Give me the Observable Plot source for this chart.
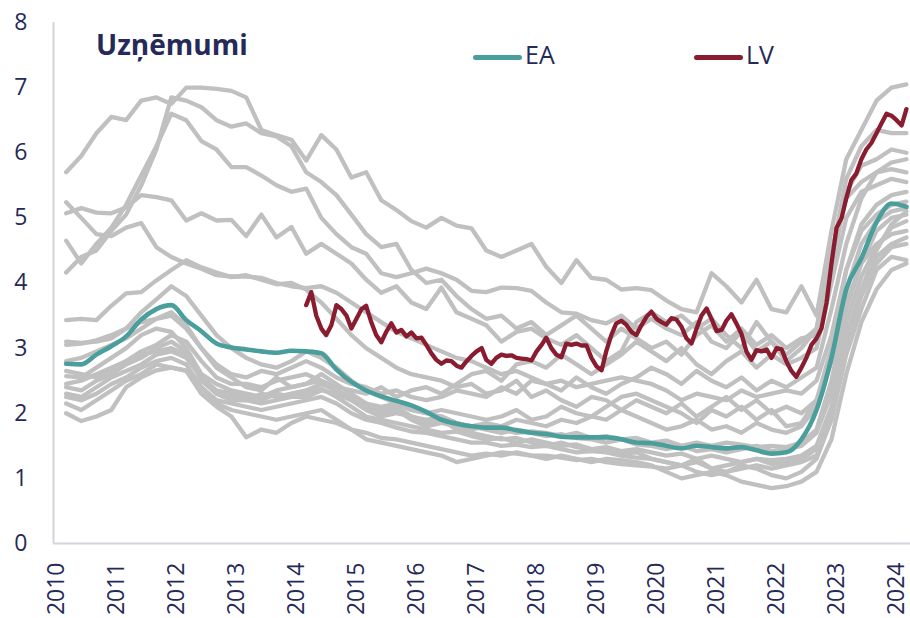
<!DOCTYPE html>
<html>
<head>
<meta charset="utf-8">
<script src="https://cdn.jsdelivr.net/npm/d3@7"></script>
<script src="https://cdn.jsdelivr.net/npm/@observablehq/plot@0.6"></script>
<style>
  html, body { margin: 0; padding: 0; background: #fff; }
  #wrap { position: relative; width: 910px; height: 618px; font-family: 'Open Sans', sans-serif; color: #262a58; }
  #title { position: absolute; left: 96px; top: 30px; font-size: 28px; font-weight: 700; line-height: 1; }
  .sw { position: absolute; height: 5px; border-radius: 3px; }
  .lg { position: absolute; font-size: 25px; line-height: 1; }
</style>
</head>
<body>
<div id="wrap">
  <div id="chart"></div>
  <div id="title">Uzņēmumi</div>
  <div class="sw" style="left:473px; top:55px; width:49px; background:#4a9f9c"></div>
  <div class="lg" style="left:525px; top:42px">EA</div>
  <div class="sw" style="left:694px; top:55px; width:49px; background:#8a1c30"></div>
  <div class="lg" style="left:746px; top:42px">LV</div>
</div>
<script>
// ---- tick labels ----
const yearLabels = ["2010","2011","2012","2013","2014","2015","2016","2017","2018","2019","2020","2021","2022","2023","2024"];
const yTicks = [0,1,2,3,4,5,6,7,8];

// ---- quarterly grey series (Mar, Jun, Sep, Dec; 2010-03 .. 2024-03) ----
const g1 = [5.7,5.95,6.3,6.55, 6.5,6.8,6.85,6.75, 7.0,7.0,6.98,6.95, 6.85,6.35,6.27,6.2, 5.88,6.27,6.05,5.62, 5.7,5.27,5.12,4.95, 4.85,5.0,4.88,4.84, 4.5,4.4,4.5,4.6, 4.25,4.0,4.35,4.08, 4.05,3.9,3.92,3.89, 3.73,3.6,3.55,4.15, 3.95,3.7,4.05,3.6, 3.55,3.95,3.5,4.8, 5.9,6.35,6.8,7.0, 7.05];
const g2 = [4.16,4.4,4.5,4.8, 5.05,5.5,6.05,6.85, 6.8,6.7,6.5,6.4, 6.45,6.3,6.25,6.1, 5.7,5.55,5.35,5.05, 4.75,4.55,4.6,4.2, 4.0,4.05,3.8,3.6, 3.45,3.5,3.3,3.4, 3.2,3.35,3.5,3.3, 3.1,3.3,3.15,3.0, 3.1,2.9,3.2,3.35, 3.1,3.3,3.05,3.2, 3.0,3.15,3.2,4.4, 5.6,6.1,6.35,6.3, 6.3];
const g3 = [4.65,4.3,4.6,4.85, 5.2,5.65,6.1,6.6, 6.5,6.18,6.05,5.78, 5.78,5.65,5.5,5.4, 5.45,5.0,4.75,4.55, 4.45,4.15,4.09,4.15, 4.22,4.15,4.05,3.88, 3.86,3.93,3.92,3.88, 3.7,3.55,3.53,3.43, 3.38,3.5,3.3,3.45, 3.3,3.2,3.4,3.1, 3.0,3.25,2.95,3.1, 2.8,3.0,3.3,4.2, 5.4,5.8,5.9,6.05, 6.0];
const g4 = [5.24,5.0,4.75,4.72, 4.85,4.92,4.55,4.4, 4.3,4.22,4.12,4.1, 4.1,4.08,4.0,3.95, 3.92,3.95,3.85,3.7, 3.55,3.4,3.25,3.15, 3.05,2.95,2.85,2.8, 2.7,2.6,2.65,2.55, 2.45,2.5,2.4,2.45, 2.5,2.55,2.5,2.45, 2.35,2.2,2.3,2.25, 2.2,2.35,2.25,2.3, 2.35,2.3,2.5,3.2, 4.2,4.8,5.05,5.2, 5.25];
const g5 = [5.07,5.15,5.08,5.07, 5.16,5.35,5.32,5.27, 4.96,5.07,4.96,4.97, 4.72,5.05,4.7,4.86, 4.45,4.6,4.45,4.3, 4.05,3.85,3.95,3.7, 3.6,3.93,3.55,3.45, 3.35,3.1,3.25,3.3, 3.15,3.05,3.2,3.0, 2.8,2.95,3.4,3.55, 3.4,3.5,3.3,3.45, 3.2,3.0,3.4,3.1, 2.9,3.1,3.3,4.5, 5.3,5.55,5.7,5.75, 5.7];
const g6 = [3.43,3.45,3.43,3.65, 3.84,3.86,4.04,4.2, 4.35,4.24,4.16,4.09, 4.12,4.05,3.98,4.0, 3.9,3.7,3.45,3.2, 3.0,2.85,2.7,2.6, 2.55,2.5,2.4,2.45, 2.3,2.35,2.5,2.25, 2.35,2.2,2.1,2.25, 2.2,2.05,2.2,2.1, 2.0,2.15,1.95,2.1, 2.25,2.05,2.2,2.0, 2.1,2.0,2.2,2.8, 3.7,4.3,4.6,4.75, 4.8];
const g7 = [3.1,3.08,3.1,3.15, 3.3,3.55,3.75,3.95, 3.8,3.5,3.2,3.0, 2.85,2.75,2.7,2.8, 2.95,2.85,2.7,2.5, 2.35,2.25,2.15,2.05, 2.0,1.95,1.85,1.8, 1.75,1.7,1.75,1.7, 1.65,1.68,1.62,1.6, 1.55,1.6,1.52,1.5, 1.45,1.5,1.42,1.45, 1.4,1.45,1.5,1.42, 1.45,1.5,1.7,2.3, 3.4,4.1,4.55,4.85, 4.95];
const g8 = [3.05,3.07,3.12,3.2, 3.3,3.4,3.45,3.55, 3.35,3.0,2.7,2.55, 2.4,2.35,2.55,2.4, 2.45,2.6,2.45,2.3, 2.15,2.05,2.1,1.95, 1.85,1.9,1.75,1.7, 1.65,1.6,1.62,1.55, 1.5,1.55,1.48,1.45, 1.42,1.38,1.4,1.3, 1.25,1.2,1.3,1.15, 1.1,1.2,1.15,1.05, 1.0,1.1,1.3,1.9, 3.0,3.8,4.3,4.55, 4.6];
const l1 = [2.57,2.55,2.7,2.85, 3.0,3.2,3.3,3.25, 3.0,2.6,2.45,2.35, 2.3,2.25,2.35,2.4, 2.45,2.5,2.35,2.2, 2.1,2.0,2.05,1.9, 1.8,1.85,1.8,1.75, 1.8,1.75,1.7,1.72, 1.7,1.65,1.7,1.62, 1.65,1.6,1.62,1.55, 1.58,1.5,1.55,1.5, 1.55,1.52,1.48,1.5, 1.48,1.55,1.75,2.5, 3.6,4.3,4.8,5.0, 5.05];
const l2 = [2.4,2.35,2.5,2.6, 2.75,2.85,3.0,3.1, 2.95,2.5,2.3,2.2, 2.2,2.15,2.2,2.25, 2.3,2.38,2.25,2.1, 1.95,1.9,1.85,1.8, 1.75,1.7,1.72,1.65, 1.6,1.62,1.55,1.6, 1.55,1.5,1.52,1.45, 1.48,1.42,1.45,1.4, 1.35,1.38,1.3,1.35, 1.3,1.25,1.3,1.28, 1.3,1.35,1.5,2.1, 3.2,3.9,4.4,4.6, 4.7];
const l3 = [2.25,2.2,2.3,2.45, 2.55,2.7,2.8,2.85, 2.75,2.4,2.2,2.15, 2.1,2.05,2.1,2.15, 2.2,2.25,2.15,2.0, 1.9,1.85,1.78,1.72, 1.7,1.65,1.6,1.55, 1.55,1.5,1.52,1.48, 1.5,1.45,1.4,1.42, 1.4,1.35,1.32,1.3, 1.25,1.2,1.25,1.15, 1.2,1.25,1.3,1.22, 1.25,1.3,1.45,2.0, 3.1,3.9,4.5,4.9, 5.1];
const l4 = [2.15,2.05,2.2,2.35, 2.5,2.6,2.75,2.7, 2.65,2.3,2.1,1.95, 1.63,1.75,1.7,1.85, 1.95,1.9,1.85,1.75, 1.7,1.62,1.6,1.55, 1.5,1.45,1.4,1.35, 1.38,1.35,1.4,1.35, 1.35,1.32,1.28,1.3, 1.25,1.22,1.2,1.18, 1.15,1.2,1.1,1.05, 1.1,1.15,1.2,1.15, 1.2,1.25,1.35,1.9, 2.9,3.6,4.2,4.4, 4.35];
const l5 = [2.0,1.88,1.95,2.05, 2.4,2.55,2.66,2.7, 2.66,2.4,2.15,2.05, 2.0,1.95,1.9,1.95, 2.0,2.05,1.9,1.75, 1.6,1.55,1.5,1.45, 1.4,1.35,1.25,1.3, 1.35,1.4,1.38,1.35, 1.3,1.35,1.3,1.25, 1.3,1.28,1.25,1.2, 1.1,1.0,1.05,1.1, 1.05,0.95,0.9,0.85, 0.88,0.95,1.1,1.6, 2.6,3.4,3.9,4.2, 4.3];
const l6 = [2.3,2.25,2.4,2.55, 2.65,2.75,2.9,2.95, 2.85,2.55,2.3,2.25, 2.2,2.3,2.25,2.3, 2.35,2.45,2.35,2.25, 2.15,2.1,2.15,2.05, 2.0,2.05,2.0,1.95, 1.9,1.95,2.05,1.9, 1.95,2.1,2.0,1.95, 2.1,2.25,2.3,2.2, 2.1,2.0,1.85,2.05, 1.95,2.1,1.9,2.05, 1.8,1.85,2.2,3.0, 4.2,4.9,5.2,5.35, 5.4];
const l7 = [2.45,2.5,2.6,2.7, 2.8,2.95,3.05,3.2, 3.1,2.8,2.55,2.45, 2.45,2.4,2.5,2.55, 2.6,2.5,2.4,2.35, 2.3,2.4,2.25,2.35, 2.4,2.3,2.45,2.6, 2.65,2.5,2.75,2.8, 2.7,2.9,2.75,2.6, 2.75,2.9,3.1,2.95, 2.8,3.0,2.75,2.6, 2.8,2.95,2.7,2.9, 2.75,2.85,3.0,4.0, 5.0,5.4,5.5,5.6, 5.55];
const m1 = [2.8,2.85,2.95,3.05, 3.15,3.3,3.45,3.5, 3.3,3.0,2.75,2.6, 2.55,2.65,2.6,2.7, 2.8,2.7,2.55,2.45, 2.4,2.3,2.35,2.25, 2.2,2.25,2.35,2.3, 2.25,2.4,2.3,2.5, 2.45,2.35,2.55,2.4, 2.3,2.45,2.55,2.7, 2.6,2.45,2.65,2.5, 2.4,2.55,2.35,2.5, 2.4,2.55,2.7,3.6, 4.6,5.3,5.7,5.85, 5.9];
const m2 = [2.65,2.6,2.55,2.65, 2.8,2.9,2.95,3.0, 2.9,2.55,2.35,2.3, 2.25,2.2,2.3,2.25, 2.25,2.35,2.3,2.2, 2.05,1.95,2.0,1.95, 1.9,1.95,1.85,1.8, 1.85,1.8,1.9,1.85, 1.8,1.9,1.85,1.95, 1.9,2.05,1.95,1.85, 1.75,1.8,1.9,1.75, 1.8,1.7,1.85,1.75, 1.7,1.8,2.1,2.8, 3.9,4.6,4.95,5.1, 5.15];

// ---- EA (quarterly) ----
const ea = [2.76,2.75,2.9,3.03, 3.18,3.44,3.6,3.66, 3.43,3.26,3.07,3.01, 2.98,2.95,2.93,2.96, 2.95,2.92,2.67,2.48, 2.35,2.26,2.19,2.12, 2.02,1.9,1.84,1.8, 1.78,1.78,1.74,1.7, 1.68,1.64,1.63,1.63, 1.63,1.6,1.55,1.54, 1.5,1.46,1.5,1.48, 1.46,1.48,1.43,1.38, 1.4,1.6,2.05,2.85, 3.9,4.38,4.93,5.22, 5.17];

// ---- LV (monthly, 2014-03 .. 2024-03) ----
const lv = [3.66,3.86,3.5,3.3,3.2,3.35,3.66,3.6,3.5,3.3,
  3.45,3.6,3.65,3.4,3.2,3.09,3.25,3.38,3.24,3.28,
  3.18,3.24,3.15,3.16,3.05,2.92,2.82,2.76,2.81,2.8,
  2.73,2.7,2.8,2.88,2.95,3.0,2.82,2.76,2.85,2.9,
  2.88,2.89,2.85,2.84,2.83,2.81,2.95,3.05,3.16,3.0,
  2.9,2.86,3.07,3.05,3.07,3.04,3.04,2.85,2.72,2.66,
  2.95,3.2,3.38,3.42,3.36,3.25,3.2,3.35,3.48,3.56,
  3.45,3.4,3.36,3.46,3.44,3.33,3.15,3.07,3.3,3.5,
  3.61,3.45,3.26,3.28,3.42,3.52,3.38,3.22,2.95,2.82,
  2.97,2.95,2.98,2.85,3.0,2.98,2.8,2.65,2.56,2.7,
  2.85,3.05,3.15,3.3,3.7,4.3,4.85,5.0,5.3,5.58,
  5.68,5.9,6.05,6.15,6.3,6.45,6.6,6.57,6.5,6.42,
  6.67];

// ---- build tables ----
const quarters = d3.utcMonth.range(new Date(Date.UTC(2010,2,1)), new Date(Date.UTC(2024,3,1)), 3);
const months = d3.utcMonth.range(new Date(Date.UTC(2014,2,1)), new Date(Date.UTC(2024,3,1)));
const greys = [g1,g2,g3,g4,g5,g6,g7,g8,l1,l2,l3,l4,l5,l6,l7,m1,m2];
const greyData = greys.flatMap((s, i) => s.map((v, j) => ({date: quarters[j], value: v, series: i})));
const eaData = ea.map((v, j) => ({date: quarters[j], value: v}));
const lvData = lv.map((v, j) => ({date: months[j], value: v}));
const yearTicks = yearLabels.map(y => new Date(Date.UTC(+y, 0, 1)));

const navy = "#262a58";
const axisCol = "#d3d3dd";
const xDomain = [new Date(Date.UTC(2009,11,14)), new Date(Date.UTC(2024,2,26))];

const chart = Plot.plot({
  width: 910, height: 618,
  marginLeft: 53, marginRight: 0, marginTop: 22, marginBottom: 75,
  style: {fontFamily: "'Open Sans', sans-serif", color: navy, background: "white", overflow: "visible"},
  x: {type: "utc", domain: xDomain},
  y: {domain: [0, 8]},
  marks: [
    Plot.ruleY([0], {stroke: axisCol, strokeWidth: 2}),
    Plot.ruleX([xDomain[0]], {y1: 0, y2: 8, stroke: axisCol, strokeWidth: 2}),
    Plot.line(greyData, {x: "date", y: "value", z: "series", stroke: "#c0c0c0", strokeWidth: 4.3, strokeLinejoin: "round", strokeLinecap: "round"}),
    Plot.line(eaData, {x: "date", y: "value", stroke: "#4a9f9c", strokeWidth: 4.6, curve: "monotone-x", strokeLinejoin: "round"}),
    Plot.line(lvData, {x: "date", y: "value", stroke: "#8a1c30", strokeWidth: 4.3, strokeLinejoin: "round", strokeLinecap: "round"}),
    Plot.axisX({ticks: yearTicks, tickFormat: d => d3.utcFormat("%Y")(d), tickRotate: -90, tickSize: 0, tickPadding: 19, fontSize: 23, label: null}),
    Plot.axisY({ticks: yTicks, tickSize: 0, tickPadding: 26, fontSize: 23, label: null})
  ]
});
document.getElementById("chart").appendChild(chart);
</script>
</body>
</html>
